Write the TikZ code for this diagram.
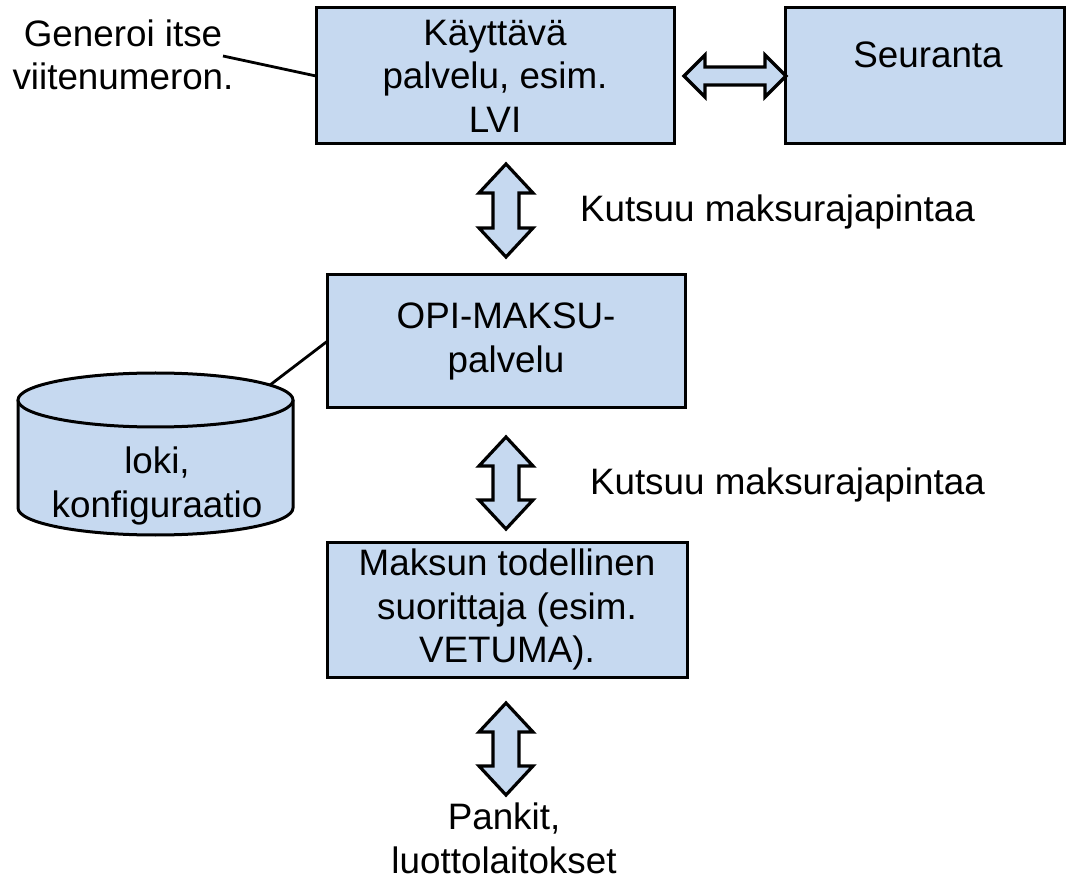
\documentclass[tikz,border=0pt]{standalone}
\usepackage{fontspec}
\setmainfont{Liberation Sans}
\usetikzlibrary{calc}
\definecolor{boxfill}{RGB}{198,217,240}
\newcommand{\varrow}[2]{%
  \draw[darrow] (#1) -- ++(27,29) -- ++(-14,0) -- ($(#2)+(13,-29)$) -- ++(14,0) -- (#2)
    -- ++(-27,-29) -- ++(14,0) -- ($(#1)+(-13,29)$) -- ++(-14,0) -- cycle;}
\newcommand{\harrow}[2]{%
  \draw[darrow] (#1) -- ++(21,-21) -- ++(0,12) -- ($(#2)+(-21,-9)$) -- ++(0,-12) -- (#2)
    -- ++(-21,21) -- ++(0,-12) -- ($(#1)+(21,9)$) -- ++(0,12) -- cycle;}
\begin{document}
\begin{tikzpicture}[x=1pt,y=-1pt,
  every node/.style={font=\fontsize{36.8}{43.5}\selectfont, inner sep=0pt, outer sep=0pt},
  box/.style={draw=black, line width=3pt, fill=boxfill, align=center},
  txt/.style={align=center},
  link/.style={draw=black, line width=2.8pt},
  darrow/.style={draw=black, line width=3.2pt, fill=boxfill, line join=miter},
  cyl/.style={draw=black, line width=3pt}]
\useasboundingbox (0,0) rectangle (1066,882);

% boxes
\node[box, minimum width=358pt, minimum height=136pt] (kayt) at (495,76) {Käyttävä\\palvelu, esim.\\LVI};
\node[box, minimum width=279pt, minimum height=136pt] (seur) at (924.5,76) {};
\node[txt, anchor=base] (seurtxt) at (928,68) {Seuranta};
\node[box, minimum width=358pt, minimum height=133pt] (opi) at (506,341.5) {OPI-MAKSU-\\palvelu};
\node[box, minimum width=360pt, minimum height=135pt] (maksu) at (507,609.5) {Maksun todellinen\\suorittaja (esim.\\VETUMA).};

% free texts
\node[txt] (gen) at (123,55) {Generoi itse\\viitenumeron.};
\node[txt, anchor=base west] (kutsu1) at (580,222) {Kutsuu maksurajapintaa};
\node[txt, anchor=base west] (kutsu2) at (590,494) {Kutsuu maksurajapintaa};
\node[txt] (pankit) at (504,838.5) {Pankit,\\luottolaitokset};

% cylinder
\fill[boxfill] (18,400) rectangle (293,508);
\fill[boxfill] (155.5,508) ellipse[x radius=137.5pt, y radius=27pt];
\draw[cyl] (18,400) -- (18,508) arc[start angle=180, end angle=360, x radius=137.5pt, y radius=27pt] -- (293,400);
\draw[cyl, fill=boxfill] (155.5,400) ellipse[x radius=137.5pt, y radius=27pt];
\node[txt] (loki) at (157,486) {loki,\\konfiguraatio};

% connectors
\coordinate (genend) at (223,56);
\draw[link] (genend) -- (kayt.west);
\coordinate (cylcon) at (270,385);
\draw[link] (cylcon) -- (opi.west);

% double arrows
\coordinate (h1l) at ($(kayt.east)+(10,0)$);
\coordinate (h1r) at ($(seur.west)+(1,0)$);
\harrow{h1l}{h1r}
\coordinate (v1t) at ($(kayt.south)+(11,20)$);
\coordinate (v1b) at ($(opi.north)+(0,-18)$);
\varrow{v1t}{v1b}
\coordinate (v2t) at ($(opi.south)+(0,29)$);
\coordinate (v2b) at ($(maksu.north)+(-1,-13)$);
\varrow{v2t}{v2b}
\coordinate (v3t) at ($(maksu.south)+(-1,26)$);
\coordinate (v3b) at ($(maksu.south)+(-1,118)$);
\varrow{v3t}{v3b}
\end{tikzpicture}
\end{document}
